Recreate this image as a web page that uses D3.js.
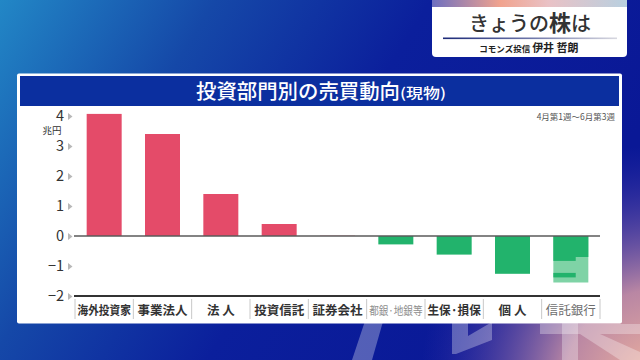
<!DOCTYPE html>
<html>
<head>
<meta charset="utf-8">
<script src="https://cdn.jsdelivr.net/npm/d3@7"></script>
<style>
  html, body { margin: 0; padding: 0; background: #0b1b98; }
  svg { display: block; }
  text { font-family: "Noto Sans CJK JP", "Noto Sans", sans-serif; }
</style>
</head>
<body>
<svg id="chart" width="640" height="360"></svg>
<script>
// 投資部門別の売買動向（現物）4月第1週〜6月第3週, 単位: 兆円
const categories = ["海外投資家", "事業法人", "法 人", "投資信託", "証券会社", "都銀·地銀等", "生保·損保", "個 人", "信託銀行"];
const values = [4.07, 3.4, 1.4, 0.4, 0.01, -0.28, -0.62, -1.26, -1.55];
// darker layers drawn over the 信託銀行 bar
const trustBankLayers = [[0, -0.7], [-0.7, -0.83], [-1.23, -1.38]];
const yTicks = [4, 3, 2, 1, 0, -1, -2];
const yTickLabels = ["4", "3", "2", "1", "0", "−1", "−2"];
const mutedCategories = ["都銀·地銀等", "信託銀行"];

const svg = d3.select("#chart");
const defs = svg.append("defs");

// background gradients
const bg = defs.append("linearGradient").attr("id", "bg")
  .attr("x1", "0").attr("y1", "0").attr("x2", "1").attr("y2", "0.35");
bg.append("stop").attr("offset", "0").attr("stop-color", "#2287c6");
bg.append("stop").attr("offset", "0.3").attr("stop-color", "#1548a8");
bg.append("stop").attr("offset", "0.6").attr("stop-color", "#0b1f9c");
bg.append("stop").attr("offset", "1").attr("stop-color", "#0a1896");

const glow = defs.append("radialGradient").attr("id", "glow")
  .attr("cx", "660").attr("cy", "385").attr("r", "240")
  .attr("gradientUnits", "userSpaceOnUse");
glow.append("stop").attr("offset", "0").attr("stop-color", "#f6b89c").attr("stop-opacity", 1);
glow.append("stop").attr("offset", "0.4").attr("stop-color", "#d89aa6").attr("stop-opacity", 0.85);
glow.append("stop").attr("offset", "1").attr("stop-color", "#4a3ab0").attr("stop-opacity", 0);

const strip = defs.append("linearGradient").attr("id", "strip");
strip.append("stop").attr("offset", "0").attr("stop-color", "#6d6fc0");
strip.append("stop").attr("offset", "0.35").attr("stop-color", "#f1a38e");
strip.append("stop").attr("offset", "0.6").attr("stop-color", "#e9c2c6");
strip.append("stop").attr("offset", "1").attr("stop-color", "#b8d0e0");

const rule = defs.append("linearGradient").attr("id", "rule");
rule.append("stop").attr("offset", "0").attr("stop-color", "#1c2a78");
rule.append("stop").attr("offset", "0.5").attr("stop-color", "#6c75a8");
rule.append("stop").attr("offset", "1").attr("stop-color", "#d8d8e0");

svg.append("rect").attr("width", 640).attr("height", 360).attr("fill", "url(#bg)");
svg.append("rect").attr("width", 640).attr("height", 360).attr("fill", "url(#glow)");

// faint logo strokes behind the panel
const mark = svg.append("g").attr("fill", "#ffffff").attr("fill-opacity", 0.3);
mark.append("path").attr("d", "M366,318L384,318L372,360L352,360Z");
mark.append("path").attr("d", "M452,318L468,318L468,336L492,322L492,340L456,354L452,354Z");
mark.append("path").attr("d", "M540,324L640,324L640,334L540,334Z");
mark.append("path").attr("d", "M562,318L578,318L578,360L562,360Z");
mark.append("path").attr("d", "M580,334L600,334L640,352L640,360L620,360Z");

// program badge (top right)
const badge = svg.append("g");
badge.append("rect").attr("x", 432).attr("y", -6).attr("width", 195).attr("height", 63)
  .attr("rx", 4).attr("fill", "#ffffff");
badge.append("rect").attr("x", 432).attr("y", 0).attr("width", 195).attr("height", 7)
  .attr("fill", "url(#strip)");
const bt = badge.append("text").attr("x", 530).attr("y", 31).attr("text-anchor", "middle")
  .attr("fill", "#333").attr("font-size", 20).attr("font-weight", 500);
bt.append("tspan").text("きょうの");
bt.append("tspan").attr("font-size", 22).attr("font-weight", 700).text("株");
bt.append("tspan").text("は");
badge.append("rect").attr("x", 443).attr("y", 37.5).attr("width", 174).attr("height", 1.6)
  .attr("fill", "url(#rule)");
const bs = badge.append("text").attr("x", 529).attr("y", 52).attr("text-anchor", "middle")
  .attr("fill", "#222").attr("font-weight", 700);
bs.append("tspan").attr("font-size", 8.5).text("コモンズ投信 ");
bs.append("tspan").attr("font-size", 11).text("伊井 哲朗");

// chart panel
svg.append("rect").attr("x", 17).attr("y", 73.5).attr("width", 605).attr("height", 250)
  .attr("rx", 2).attr("fill", "#ffffff");
svg.append("rect").attr("x", 20).attr("y", 76).attr("width", 599).attr("height", 30)
  .attr("fill", "#0b2f9f");
svg.append("text").attr("x", 196).attr("y", 99)
  .attr("fill", "#ffffff").attr("font-weight", 500).attr("font-size", 20)
  .attr("textLength", 204).attr("lengthAdjust", "spacingAndGlyphs")
  .text("投資部門別の売買動向");
svg.append("text").attr("x", 400).attr("y", 98)
  .attr("fill", "#ffffff").attr("font-weight", 500).attr("font-size", 14)
  .attr("textLength", 46).attr("lengthAdjust", "spacingAndGlyphs")
  .text("(現物)");

svg.append("text").attr("x", 615).attr("y", 120).attr("text-anchor", "end")
  .attr("font-size", 8.5).attr("fill", "#555").text("4月第1週〜6月第3週");

// scales
const x = d3.scaleBand().domain(categories).range([75, 600])
  .paddingInner(0.4).paddingOuter(0.2);
const y = d3.scaleLinear().domain([-2, 4]).range([296, 116]);

// y axis labels with small grey markers
const yAxis = svg.append("g").attr("transform", "translate(64,0)")
  .call(d3.axisLeft(y).tickValues(yTicks).tickSize(0).tickPadding(0)
    .tickFormat((d, i) => yTickLabels[i]));
yAxis.select(".domain").remove();
yAxis.selectAll("text").attr("font-size", 14.5).attr("fill", "#333")
  .attr("font-family", "Lato, 'Noto Sans', sans-serif").attr("dy", "0.33em");
yAxis.selectAll(".tick").append("path").attr("d", "M4,-3.5L8.5,0L4,3.5Z").attr("fill", "#b8b8b8");

svg.append("text").attr("x", 52).attr("y", 133.5).attr("text-anchor", "middle")
  .attr("font-size", 9.5).attr("fill", "#333").text("兆円");

// bars
svg.append("g").selectAll("rect").data(categories).join("rect")
  .attr("x", d => x(d))
  .attr("width", x.bandwidth())
  .attr("y", (d, i) => y(Math.max(0, values[i])))
  .attr("height", (d, i) => Math.abs(y(values[i]) - y(0)))
  .attr("fill", (d, i) => values[i] >= 0 ? "#e44b69" : (d === "信託銀行" ? "#7fd3a6" : "#22b36c"));

const tb = "信託銀行";
svg.append("g").selectAll("rect").data(trustBankLayers).join("rect")
  .attr("x", x(tb))
  .attr("width", (d, i) => i === 0 ? x.bandwidth() : x.bandwidth() * 0.64)
  .attr("y", d => y(d[0]))
  .attr("height", d => y(d[1]) - y(d[0]))
  .attr("fill", "#22b36c");

// zero line and baseline
svg.append("line").attr("x1", 74).attr("x2", 600).attr("y1", y(0)).attr("y2", y(0))
  .attr("stroke", "#5a5a5a").attr("stroke-width", 1.4);
svg.append("line").attr("x1", 74).attr("x2", 600).attr("y1", y(-2)).attr("y2", y(-2))
  .attr("stroke", "#333").attr("stroke-width", 2);

// category labels separated by thin rules
const xAxis = svg.append("g");
const edges = categories.map(c => x(c) - x.step() * x.paddingInner() / 2);
edges.push(600);
edges[0] = 75;
xAxis.selectAll("line").data(edges).join("line")
  .attr("x1", d => d).attr("x2", d => d).attr("y1", 299).attr("y2", 319)
  .attr("stroke", "#c8c8c8").attr("stroke-width", 1);
xAxis.selectAll("text").data(categories).join("text")
  .attr("x", d => x(d) + x.bandwidth() / 2)
  .attr("y", 315)
  .attr("text-anchor", "middle")
  .attr("font-size", d => d === "都銀·地銀等" ? 11.5 : 12.5)
  .attr("font-weight", d => mutedCategories.includes(d) ? 400 : 700)
  .attr("fill", d => d === "都銀·地銀等" ? "#8e8e8e" : (d === "信託銀行" ? "#6e6e6e" : "#333"))
  .attr("xml:space", "preserve")
  .style("white-space", "pre")
  .text(d => d)
  .each(function () {
    // squeeze long labels so they stay inside their column
    const w = this.getComputedTextLength();
    const maxW = x.step() - 5;
    if (w > maxW) d3.select(this).attr("textLength", maxW).attr("lengthAdjust", "spacingAndGlyphs");
  });
</script>
</body>
</html>
